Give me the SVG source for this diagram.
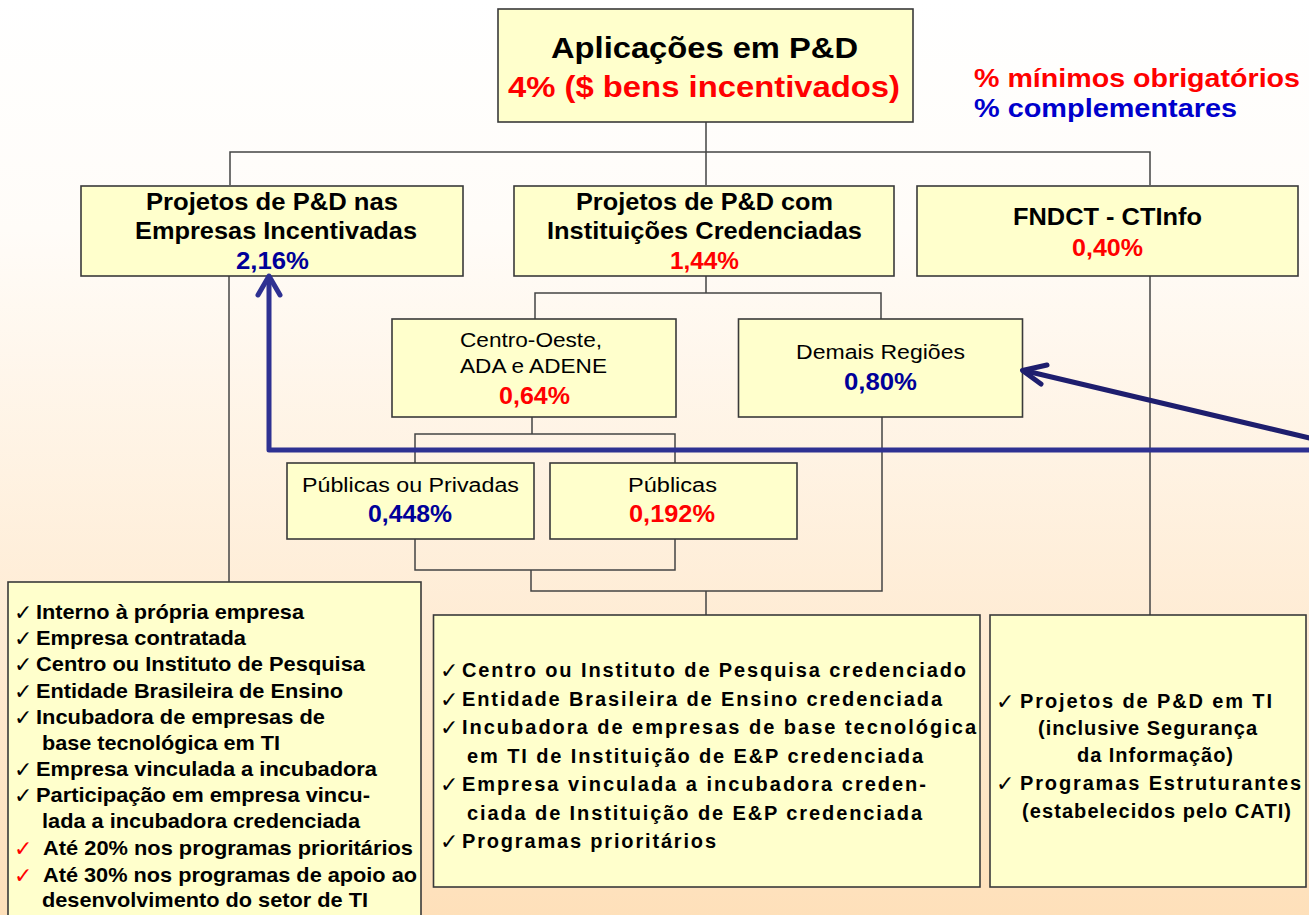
<svg xmlns="http://www.w3.org/2000/svg" width="1309" height="915" viewBox="0 0 1309 915">
<defs>
<linearGradient id="bg" x1="0" y1="0" x2="0" y2="1">
<stop offset="0" stop-color="#FFFFFF"/>
<stop offset="0.25" stop-color="#FFFCF8"/>
<stop offset="1" stop-color="#FEE0BA"/>
</linearGradient>
<style>
.box{fill:#FFFFCC;stroke:#3A3A3A;stroke-width:1.6}
.con{fill:none;stroke:#444;stroke-width:1.5}
text{font-family:"Liberation Sans",Arial,"DejaVu Sans",sans-serif}
.t30{font-size:30px;font-weight:bold;text-anchor:middle}
.leg{font-size:26px;font-weight:bold}
.h24{font-size:24px;font-weight:bold;text-anchor:middle;fill:#000}
.n20{font-size:20px;text-anchor:middle;fill:#000}
.pc{font-size:24px;font-weight:bold;text-anchor:middle}
.red{fill:#FF0000}
.blue{fill:#000099}
.lblue{fill:#0000CC}
.bl{font-size:21px;font-weight:bold;fill:#000}
.bm{font-size:20px;font-weight:bold;fill:#000}
.ck{font-family:"DejaVu Sans",sans-serif;font-size:22px}
.arr{fill:none;stroke-width:5;stroke-linecap:round;stroke-linejoin:round}
</style>
</defs>
<rect x="0" y="0" width="1309" height="915" fill="url(#bg)"/>

<g id="connectors">
<path class="con" d="M706 122 V185 M230 185 V152 H1150 V185"/>
<path class="con" d="M229 276 V582"/>
<path class="con" d="M706 276 V293 M535 319 V293 H881 V319"/>
<path class="con" d="M532 417 V434 M415 463 V434 H675 V463"/>
<path class="con" d="M415 539 V570 H675 V539 M531 570 V591 H882 V417 M706 591 V615"/>
<path class="con" d="M1150 276 V615"/>
</g>

<g id="legend">
<text class="leg red" x="974" y="87" textLength="326" lengthAdjust="spacingAndGlyphs">% mínimos obrigatórios</text>
<text class="leg lblue" x="974" y="117" textLength="263" lengthAdjust="spacingAndGlyphs">% complementares</text>
</g>

<g id="root">
<rect class="box" x="498" y="9" width="415" height="113"/>
<text class="t30" x="704.5" y="58" textLength="307" lengthAdjust="spacingAndGlyphs">Aplicações em P&amp;D</text>
<text class="t30 red" x="704" y="97" textLength="392" lengthAdjust="spacingAndGlyphs">4% ($ bens incentivados)</text>
</g>

<g id="empresas">
<rect class="box" x="81" y="186" width="382" height="90"/>
<text class="h24" x="272" y="210" textLength="252" lengthAdjust="spacingAndGlyphs">Projetos de P&amp;D nas</text>
<text class="h24" x="276" y="239" textLength="282" lengthAdjust="spacingAndGlyphs">Empresas Incentivadas</text>
<text class="pc blue" x="272.5" y="269" textLength="73" lengthAdjust="spacingAndGlyphs">2,16%</text>
</g>

<g id="instituicoes">
<rect class="box" x="514" y="186" width="380" height="90"/>
<text class="h24" x="704.5" y="210" textLength="257" lengthAdjust="spacingAndGlyphs">Projetos de P&amp;D com</text>
<text class="h24" x="704.5" y="239" textLength="315" lengthAdjust="spacingAndGlyphs">Instituições Credenciadas</text>
<text class="pc red" x="704.5" y="269" textLength="69" lengthAdjust="spacingAndGlyphs">1,44%</text>
</g>

<g id="fndct">
<rect class="box" x="917" y="186" width="381" height="90"/>
<text class="h24" x="1107.5" y="225" textLength="189" lengthAdjust="spacingAndGlyphs">FNDCT - CTInfo</text>
<text class="pc red" x="1107.5" y="256" textLength="71" lengthAdjust="spacingAndGlyphs">0,40%</text>
</g>

<g id="centro-oeste">
<rect class="box" x="392" y="319" width="284" height="98"/>
<text class="n20" x="531" y="347" textLength="142" lengthAdjust="spacingAndGlyphs">Centro-Oeste,</text>
<text class="n20" x="533.5" y="373" textLength="147" lengthAdjust="spacingAndGlyphs">ADA e ADENE</text>
<text class="pc red" x="534.5" y="404" textLength="71" lengthAdjust="spacingAndGlyphs">0,64%</text>
</g>

<g id="demais">
<rect class="box" x="738.5" y="319" width="284" height="98"/>
<text class="n20" x="880.5" y="359" textLength="169" lengthAdjust="spacingAndGlyphs">Demais Regiões</text>
<text class="pc blue" x="880.5" y="390" textLength="73" lengthAdjust="spacingAndGlyphs">0,80%</text>
</g>

<g id="publicas-privadas">
<rect class="box" x="287" y="463" width="247" height="76"/>
<text class="n20" x="410.5" y="492" textLength="217" lengthAdjust="spacingAndGlyphs">Públicas ou Privadas</text>
<text class="pc blue" x="410" y="522" textLength="84" lengthAdjust="spacingAndGlyphs">0,448%</text>
</g>

<g id="publicas">
<rect class="box" x="550" y="463" width="247" height="76"/>
<text class="n20" x="672.5" y="492" textLength="89" lengthAdjust="spacingAndGlyphs">Públicas</text>
<text class="pc red" x="672" y="522" textLength="86" lengthAdjust="spacingAndGlyphs">0,192%</text>
</g>

<g id="lista-empresas">
<rect class="box" x="8" y="582" width="413" height="345"/>
<g fill="#000">
<text class="ck" x="14" y="620">✓</text>
<text class="ck" x="14" y="646">✓</text>
<text class="ck" x="14" y="672">✓</text>
<text class="ck" x="14" y="699">✓</text>
<text class="ck" x="14" y="725">✓</text>
<text class="ck" x="14" y="777">✓</text>
<text class="ck" x="14" y="803">✓</text>
</g>
<text class="bl" x="36" y="619" textLength="268" lengthAdjust="spacingAndGlyphs">Interno à própria empresa</text>
<text class="bl" x="36" y="645" textLength="210" lengthAdjust="spacingAndGlyphs">Empresa contratada</text>
<text class="bl" x="36" y="671" textLength="329" lengthAdjust="spacingAndGlyphs">Centro ou Instituto de Pesquisa</text>
<text class="bl" x="36" y="698" textLength="307" lengthAdjust="spacingAndGlyphs">Entidade Brasileira de Ensino</text>
<text class="bl" x="36" y="724" textLength="289" lengthAdjust="spacingAndGlyphs">Incubadora de empresas de</text>
<text class="bl" x="42" y="750" textLength="238" lengthAdjust="spacingAndGlyphs">base tecnológica em TI</text>
<text class="bl" x="36" y="776" textLength="341" lengthAdjust="spacingAndGlyphs">Empresa vinculada a incubadora</text>
<text class="bl" x="36" y="802" textLength="334" lengthAdjust="spacingAndGlyphs">Participação em empresa vincu-</text>
<text class="bl" x="42" y="828" textLength="318" lengthAdjust="spacingAndGlyphs">lada a incubadora credenciada</text>
<g class="red">
<text class="ck" x="14" y="856">✓</text>
<text class="ck" x="14" y="883">✓</text>
<text class="bl red" x="43" y="855" textLength="370" lengthAdjust="spacingAndGlyphs">Até 20% nos programas prioritários</text>
<text class="bl red" x="43" y="882" textLength="374" lengthAdjust="spacingAndGlyphs">Até 30% nos programas de apoio ao</text>
<text class="bl red" x="42" y="907" textLength="326" lengthAdjust="spacingAndGlyphs">desenvolvimento do setor de TI</text>
</g>
</g>

<g id="lista-instituicoes">
<rect class="box" x="433.5" y="615" width="546.5" height="272"/>
<g fill="#000">
<text class="ck" x="440" y="678">✓</text>
<text class="ck" x="440" y="706.5">✓</text>
<text class="ck" x="440" y="735">✓</text>
<text class="ck" x="440" y="792">✓</text>
<text class="ck" x="440" y="849">✓</text>
</g>
<text class="bm" x="462" y="677" textLength="504" lengthAdjust="spacing">Centro ou Instituto de Pesquisa credenciado</text>
<text class="bm" x="462" y="705.5" textLength="480" lengthAdjust="spacing">Entidade Brasileira de Ensino credenciada</text>
<text class="bm" x="462" y="734" textLength="514" lengthAdjust="spacing">Incubadora de empresas de base tecnológica</text>
<text class="bm" x="467" y="762.5" textLength="456" lengthAdjust="spacing">em TI de Instituição de E&amp;P credenciada</text>
<text class="bm" x="462" y="791" textLength="464" lengthAdjust="spacing">Empresa vinculada a incubadora creden-</text>
<text class="bm" x="467" y="819.5" textLength="455" lengthAdjust="spacing">ciada de Instituição de E&amp;P credenciada</text>
<text class="bm" x="462" y="848" textLength="254" lengthAdjust="spacing">Programas prioritários</text>
</g>

<g id="lista-fndct">
<rect class="box" x="990" y="615" width="316" height="272"/>
<g fill="#000">
<text class="ck" x="996" y="709">✓</text>
<text class="ck" x="996" y="791">✓</text>
</g>
<text class="bm" x="1020" y="708" textLength="252" lengthAdjust="spacing">Projetos de P&amp;D em TI</text>
<text class="bm" x="1038" y="735" textLength="219" lengthAdjust="spacing">(inclusive Segurança</text>
<text class="bm" x="1077" y="762" textLength="156" lengthAdjust="spacing">da Informação)</text>
<text class="bm" x="1020" y="790" textLength="281" lengthAdjust="spacing">Programas Estruturantes</text>
<text class="bm" x="1022" y="818" textLength="269" lengthAdjust="spacing">(estabelecidos pelo CATI)</text>
</g>

<g id="arrows">
<path class="arr" stroke="#2E3192" d="M1320 450 H269 V279"/>
<path class="arr" stroke="#2E3192" d="M258 295 L269 276 L280 295"/>
<path class="arr" stroke="#1E1E6E" d="M1320 440.5 L1024 370.5"/>
<path class="arr" stroke="#1E1E6E" d="M1047 365 L1022.5 370.5 L1041 384"/>
</g>
</svg>
